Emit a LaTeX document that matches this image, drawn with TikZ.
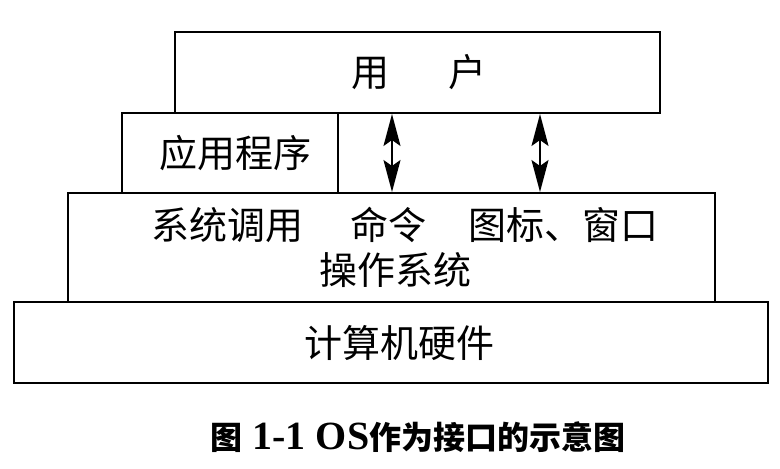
\documentclass[tikz,border=0pt]{standalone}
\usepackage{fontspec}
\setmainfont{Liberation Serif}
\newfontfamily\cjk{Noto Sans CJK SC}
\usetikzlibrary{arrows.meta}
\tikzset{
  box/.style={draw=black, line width=2.4pt, inner sep=0pt, outer sep=0pt, anchor=north west},
  lbl/.style={inner sep=0pt, font=\cjk\fontsize{38}{40}\selectfont},
  dbl/.style={line width=1.8pt, arrows={Stealth[length=32pt,width=17pt,inset=6pt]-Stealth[length=32pt,width=17pt,inset=6pt]}}
}
\begin{document}
\begin{tikzpicture}[x=1pt,y=-1pt]
\useasboundingbox (0,0) rectangle (780,469);
\node[box, minimum width=485pt, minimum height=81pt] (user) at (175,32) {};
\node[box, minimum width=216pt, minimum height=80pt] (app) at (122,113) {};
\node[box, minimum width=647pt, minimum height=109pt] (os) at (68,193) {};
\node[box, minimum width=754pt, minimum height=81pt] (hw) at (14,302) {};
\node[lbl] (userlbl) at (419,72) {用\hspace{60pt}户};
\node[lbl] (applbl) at (235,153) {应用程序};
\node[lbl] (oslbl1) at (405,225) {系统调用\hspace{48pt}命令\hspace{42pt}图标、窗口};
\node[lbl] (oslbl2) at (395,270) {操作系统};
\node[lbl] (hwlbl) at (399,343) {计算机硬件};
\coordinate (a1t) at (392,114);
\coordinate (a1b) at (392,192);
\coordinate (a2t) at (540,114);
\coordinate (a2b) at (540,192);
\draw[dbl] (a1t) -- (a1b);
\draw[dbl] (a2t) -- (a2b);
\node[inner sep=0pt] (cap) at (418,437) {{\cjk\bfseries\fontsize{32}{34}\selectfont 图}\hspace{10pt}{\bfseries\fontsize{40}{42}\selectfont 1-1 OS}{\cjk\bfseries\fontsize{32}{34}\selectfont 作为接口的示意图}};
\end{tikzpicture}
\end{document}
